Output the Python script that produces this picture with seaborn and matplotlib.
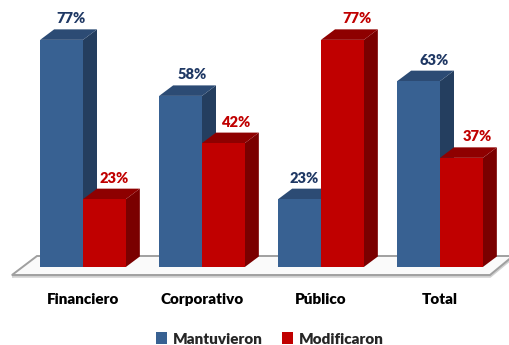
import matplotlib
matplotlib.use("Agg")
import matplotlib.pyplot as plt
from matplotlib.patches import Polygon, Patch
import seaborn as sns
import pandas as pd

categories = ["Financiero", "Corporativo", "Público", "Total"]
series = ["Mantuvieron", "Modificaron"]
mantuvieron = [77, 58, 23, 63]
modificaron = [23, 42, 77, 37]

front_colors = {"Mantuvieron": "#386192", "Modificaron": "#C00000"}
side_colors = {"Mantuvieron": "#243E5F", "Modificaron": "#7A0000"}
top_colors = {"Mantuvieron": "#2C4B74", "Modificaron": "#8E0000"}
label_colors = {"Mantuvieron": "#1F3864", "Modificaron": "#C00000"}

df = pd.DataFrame({
    "cat": categories * 2,
    "serie": [series[0]] * 4 + [series[1]] * 4,
    "val": mantuvieron + modificaron,
})

sns.set_theme(style="white")
plt.rcParams["font.family"] = ["Lato", "DejaVu Sans"]

W, H = 510, 345
fig = plt.figure(figsize=(W / 100, H / 100), dpi=100)
ax = fig.add_axes([0, 0, 1, 1])

sns.barplot(data=df, x="cat", y="val", hue="serie", palette=front_colors,
            width=0.72, ax=ax, legend=False, saturation=1, zorder=3,
            edgecolor="none", linewidth=0)

# pixel mapping: x px = 83 + 119*x ; y px from bottom = 78 + 2.95*v
px_x, px_y = 119.0, 2.95
ax.set_xlim(-83 / px_x, (W - 83) / px_x)
ax.set_ylim(-78 / px_y, (H - 78) / px_y)
ax.axis("off")

dx = 14 / px_x
dy = 10.5 / px_y

# floor
fl_front = (H - 275 - 78) / px_y
fl_back = (H - 256 - 78) / px_y
shadow = Polygon([((12 - 83) / px_x, fl_front - 1.2 / px_y), ((490 - 83) / px_x, fl_front - 1.2 / px_y),
                  ((513 - 83) / px_x, fl_back - 1.2 / px_y), ((37 - 83) / px_x, fl_back - 1.2 / px_y)],
                 closed=True, facecolor="none", edgecolor="#D0D0D0",
                 linewidth=2.2, zorder=0)
ax.add_patch(shadow)
floor = Polygon([((12 - 83) / px_x, fl_front), ((490 - 83) / px_x, fl_front),
                 ((513 - 83) / px_x, fl_back), ((37 - 83) / px_x, fl_back)],
                closed=True, facecolor="#FAFAFA", edgecolor="#A0A0A0",
                linewidth=1.4, zorder=0.5)
ax.add_patch(floor)

conts = list(ax.containers)
for si, (name, cont) in enumerate(zip(series, conts)):
    for bi, bar in enumerate(cont):
        x0 = bar.get_x()
        w = bar.get_width()
        h = bar.get_height()
        x1 = x0 + w
        side = Polygon([(x1, 0), (x1 + dx, dy), (x1 + dx, h + dy), (x1, h)],
                       closed=True, facecolor=side_colors[name],
                       edgecolor="none", zorder=1)
        top = Polygon([(x0, h), (x0 + dx, h + dy), (x1 + dx, h + dy), (x1, h)],
                      closed=True, facecolor=top_colors[name],
                      edgecolor="none", zorder=1)
        ax.add_patch(side)
        ax.add_patch(top)
        cx_px = 83 + px_x * (x0 + w / 2)
        off_px = 9 + 0.018 * (cx_px - 60)
        # keep label clear of a taller neighbouring bar
        if si + 1 < len(conts) and conts[si + 1][bi].get_height() > h + 10:
            off_px = 5
        ax.text(x0 + w / 2 + off_px / px_x, h + 21 / px_y, f"{int(round(h))}%",
                ha="center", va="center", fontsize=10.5, fontweight="heavy",
                color=label_colors[name], zorder=5)

for i, c in enumerate(categories):
    ax.text(i, (H - 299 - 78) / px_y, c, ha="center", va="center",
            fontsize=11, fontweight="heavy", color="black")

handles = [Patch(facecolor=front_colors[s], edgecolor="none", label=s) for s in series]
fig.legend(handles=handles, loc="center", bbox_to_anchor=(270 / W, 1 - 339 / H),
           ncol=2, frameon=False, handlelength=0.7, handleheight=0.8,
           handletextpad=0.4, columnspacing=1.3,
           prop={"family": ["Lato", "DejaVu Sans"], "weight": "heavy", "size": 11})

fig.savefig("out.png", dpi=100)
